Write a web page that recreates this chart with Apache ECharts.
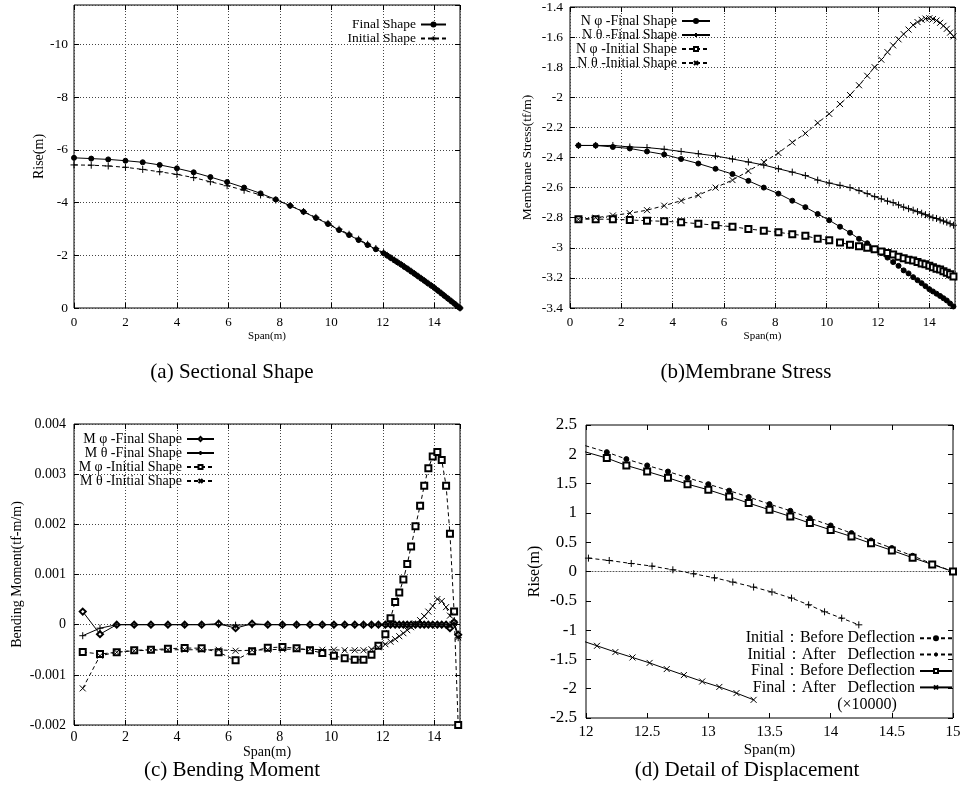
<!DOCTYPE html>
<html>
<head>
<meta charset="utf-8">
<script src="https://cdn.jsdelivr.net/npm/echarts@6/dist/echarts.min.js"></script>
<style>html,body{margin:0;padding:0;background:#fff}#main{width:967px;height:806px}</style>
</head>
<body>
<div id="main"></div>
<script>
// (a) Sectional Shape
var shapeX = [0, 0.67, 1.33, 2.0, 2.67, 3.33, 4.0, 4.65, 5.3, 5.95, 6.61, 7.25, 7.84, 8.4, 8.92, 9.4, 9.87, 10.3, 10.69, 11.06, 11.41, 11.73,
  12.03, 12.17, 12.31, 12.45, 12.58, 12.71, 12.84, 12.97, 13.1, 13.23, 13.36, 13.49, 13.62, 13.75, 13.88, 14.01, 14.14, 14.27, 14.4, 14.53, 14.66, 14.79, 14.9, 15.0];
var finalShape = [-5.70, -5.67, -5.64, -5.59, -5.53, -5.43, -5.30, -5.15, -4.97, -4.78, -4.57, -4.35, -4.12, -3.88, -3.65, -3.42, -3.19, -2.96, -2.77, -2.58, -2.39, -2.23,
  -2.08, -1.99, -1.90, -1.81, -1.73, -1.65, -1.56, -1.48, -1.39, -1.30, -1.21, -1.12, -1.03, -0.94, -0.85, -0.76, -0.66, -0.56, -0.46, -0.36, -0.26, -0.16, -0.07, 0];
var initialShape = [-5.43, -5.42, -5.39, -5.34, -5.26, -5.17, -5.07, -4.95, -4.79, -4.64, -4.47, -4.29, -4.10, -3.89, -3.66, -3.44, -3.21, -2.99, -2.80, -2.61, -2.42, -2.26,
  -2.10, -2.00, -1.91, -1.82, -1.74, -1.655, -1.57, -1.485, -1.395, -1.305, -1.215, -1.125, -1.035, -0.945, -0.855, -0.76, -0.665, -0.565, -0.465, -0.365, -0.26, -0.16, -0.07, 0];

// (b) Membrane Stress
var elementX = [0.33, 1.0, 1.67, 2.33, 3.0, 3.67, 4.33, 5.0, 5.67, 6.33, 6.95, 7.55, 8.12, 8.66, 9.17, 9.65, 10.1, 10.52, 10.91, 11.26, 11.58, 11.87,
  12.13, 12.37, 12.59, 12.8, 13.0, 13.19, 13.37, 13.54, 13.7, 13.85, 14.0, 14.14, 14.28, 14.42, 14.55, 14.68, 14.81, 14.94];
var nPhiFinal = [-2.32, -2.32, -2.33, -2.34, -2.36, -2.38, -2.41, -2.44, -2.475, -2.51, -2.555, -2.60, -2.64, -2.687, -2.73, -2.775, -2.817, -2.86, -2.90, -2.94, -2.97, -3.01,
  -3.035, -3.065, -3.095, -3.12, -3.15, -3.17, -3.195, -3.215, -3.235, -3.255, -3.275, -3.29, -3.305, -3.32, -3.335, -3.35, -3.37, -3.39];
var nThetaFinal = [-2.32, -2.32, -2.32, -2.33, -2.334, -2.345, -2.36, -2.375, -2.39, -2.41, -2.43, -2.45, -2.475, -2.497, -2.52, -2.55, -2.57, -2.585, -2.60, -2.62, -2.64, -2.66,
  -2.675, -2.69, -2.70, -2.715, -2.73, -2.74, -2.75, -2.76, -2.77, -2.78, -2.79, -2.80, -2.805, -2.815, -2.822, -2.83, -2.84, -2.85];
var nPhiInitial = [-2.81, -2.81, -2.81, -2.815, -2.82, -2.824, -2.83, -2.84, -2.85, -2.86, -2.875, -2.886, -2.897, -2.91, -2.92, -2.94, -2.95, -2.965, -2.98, -2.99, -3.0, -3.01,
  -3.025, -3.035, -3.045, -3.06, -3.07, -3.08, -3.085, -3.095, -3.105, -3.11, -3.12, -3.13, -3.14, -3.145, -3.155, -3.165, -3.175, -3.19];
var nThetaInitial = [-2.81, -2.80, -2.785, -2.77, -2.75, -2.72, -2.687, -2.65, -2.60, -2.55, -2.49, -2.43, -2.37, -2.30, -2.24, -2.17, -2.11, -2.045, -1.985, -1.92, -1.857, -1.80,
  -1.75, -1.70, -1.655, -1.615, -1.58, -1.55, -1.52, -1.50, -1.485, -1.477, -1.475, -1.48, -1.49, -1.505, -1.525, -1.545, -1.57, -1.595];

// (c) Bending Moment
var momentX = [0.34, 1.01, 1.66, 2.34, 2.99, 3.65, 4.3, 4.96, 5.62, 6.28, 6.92, 7.53, 8.1, 8.65, 9.17, 9.65, 10.1, 10.52, 10.91, 11.25, 11.56, 11.83,
  12.1, 12.3, 12.48, 12.64, 12.8, 12.95, 13.1, 13.27, 13.45, 13.61, 13.77, 13.94, 14.12, 14.29, 14.46, 14.61, 14.77, 14.93];
var mPhiFinal = [0.00026, -0.00019, 0, 0, 0, 0, 0, 0, 0.00002, -0.00007, 0.00002, 0, 0, 0, 0, 0, 0, 0, 0, 0, 0, 0,
  0, 0, 0, 0, 0, 0, 0, 0, 0, 0, 0, 0, 0, 0, 0, -0.00007, 0.00005, -0.0002];
var mThetaFinal = [-0.00022, -0.00007, 0, 0, 0, 0, 0, 0, 0, -0.00001, 0, 0, 0, 0, 0, 0, 0, 0, 0, 0, 0, 0,
  0, 0, 0, 0, 0, 0, 0, 0, 0, 0, 0, 0, 0, 0, 0, 0, 0.00002, -0.00026];
var mPhiInitial = [-0.000545, -0.000585, -0.00055, -0.00051, -0.0005, -0.00048, -0.000465, -0.00047, -0.00055, -0.00071, -0.00053, -0.00046, -0.000445, -0.00047, -0.00051, -0.000565, -0.00062, -0.00067, -0.0007, -0.0007, -0.0006, -0.00042,
  -0.00019, 0.00013, 0.00045, 0.00064, 0.0009, 0.00121, 0.00156, 0.00196, 0.00237, 0.00277, 0.00312, 0.00335, 0.00344, 0.00328, 0.00277, 0.00181, 0.00026, -0.002];
var mThetaInitial = [-0.00127, -0.00062, -0.00055, -0.00052, -0.00051, -0.0005, -0.0005, -0.0005, -0.0005, -0.00052, -0.00051, -0.0005, -0.00049, -0.00049, -0.00049, -0.0005, -0.0005, -0.00051, -0.00051, -0.00051, -0.00049, -0.00045,
  -0.00039, -0.00034, -0.00029, -0.00023, -0.00017, -0.00011, -0.00005, 0.00002, 0.00009, 0.00017, 0.00026, 0.00037, 0.00051, 0.00047, 0.00035, 0.00018, 0.00003, -0.00025];

// (d) Detail of Displacement
var beforeX = [11.83, 12.17, 12.33, 12.5, 12.67, 12.83, 13.0, 13.17, 13.33, 13.5, 13.67, 13.83, 14.0, 14.17, 14.33, 14.5, 14.67, 14.83, 15.0];
var initialBefore = [2.25, 2.037, 1.918, 1.81, 1.706, 1.60, 1.49, 1.38, 1.27, 1.15, 1.036, 0.91, 0.785, 0.655, 0.53, 0.40, 0.268, 0.13, 0];
var finalBefore = [2.14, 1.935, 1.81, 1.706, 1.60, 1.49, 1.394, 1.28, 1.167, 1.053, 0.94, 0.826, 0.71, 0.597, 0.48, 0.36, 0.234, 0.12, 0];
var initialAfterX = [12.02, 12.19, 12.37, 12.54, 12.71, 12.88, 13.05, 13.2, 13.37, 13.52, 13.68, 13.82, 13.95, 14.09, 14.23];
var initialAfter = [0.228, 0.188, 0.137, 0.092, 0.029, -0.039, -0.108, -0.18, -0.266, -0.35, -0.454, -0.568, -0.688, -0.796, -0.91];
var finalAfterX = [11.95, 12.09, 12.24, 12.38, 12.52, 12.66, 12.8, 12.95, 13.09, 13.23, 13.37];
var finalAfter = [-1.17, -1.268, -1.375, -1.467, -1.56, -1.665, -1.768, -1.877, -1.97, -2.075, -2.19];

var serif = 'Liberation Serif, Times New Roman, serif';
var PLUS = 'path://M5,0L5,10M0,5L10,5';
var CROSS = 'path://M0,0L10,10M10,0L0,10';

function pts(xs, ys) {
  return xs.map(function (x, i) { return [x, ys[i]]; });
}

function line(name, g, xs, ys, dashed, symbol, size) {
  return {
    name: name, type: 'line', xAxisIndex: g, yAxisIndex: g,
    data: pts(xs, ys),
    symbol: symbol, symbolSize: size, showAllSymbol: true,
    lineStyle: { color: '#000', width: 1, type: dashed ? [4, 3] : 'solid' },
    itemStyle: { color: '#000', borderColor: '#000', borderWidth: 1 },
    emphasis: { disabled: true }
  };
}

var grids = [
  { left: 74, top: 5, width: 386, height: 303 },
  { left: 570, top: 6, width: 385, height: 302 },
  { left: 74, top: 424, width: 386, height: 301 },
  { left: 586, top: 425, width: 367, height: 293 }
];
grids.forEach(function (g) { g.show = true; g.borderColor = '#000'; g.borderWidth = 1; });

var dotted = { show: true, lineStyle: { type: [1, 2], color: '#444', width: 1 } };

function axis(g, pos, o, mirror) {
  var a = {
    type: 'value', gridIndex: g, position: pos,
    min: o.min, max: o.max, interval: o.interval, splitNumber: o.splitNumber, inverse: o.inverse,
    axisLine: { show: false, onZero: false },
    axisTick: { show: true, inside: true, length: 5, lineStyle: { color: '#000' } },
    splitLine: mirror ? { show: false } : (o.grid ? dotted : { show: false }),
    axisLabel: mirror ? { show: false } : {
      color: '#000', fontFamily: serif, fontSize: o.fontSize, margin: o.margin,
      showMinLabel: o.showMin, showMaxLabel: o.showMax
    }
  };
  if (!mirror && o.name) {
    a.name = o.name; a.nameLocation = 'middle'; a.nameGap = o.nameGap;
    a.nameTextStyle = { color: '#000', fontFamily: serif, fontSize: o.nameSize };
  }
  return a;
}

var xOpts = [
  { min: 0, max: 15, interval: 2, showMax: false, grid: true, fontSize: 13, margin: 8, name: 'Span(m)', nameGap: 23, nameSize: 11 },
  { min: 0, max: 15, interval: 2, showMax: false, grid: true, fontSize: 13, margin: 8, name: 'Span(m)', nameGap: 23, nameSize: 11 },
  { min: 0, max: 15, interval: 2, showMax: false, grid: true, fontSize: 14, margin: 5, name: 'Span(m)', nameGap: 20, nameSize: 14 },
  { min: 12, max: 15, interval: 0.5, grid: false, fontSize: 15, margin: 7, name: 'Span(m)', nameGap: 25, nameSize: 15 }
];
var yOpts = [
  { min: -11.5, max: 0, splitNumber: 5, inverse: true, showMin: false, grid: true, fontSize: 13.5, margin: 6, name: 'Rise(m)', nameGap: 27, nameSize: 14 },
  { min: -3.4, max: -1.4, interval: 0.2, grid: true, fontSize: 13.5, margin: 7, name: 'Membrane Stress(tf/m)', nameGap: 36, nameSize: 13.5 },
  { min: -0.002, max: 0.004, interval: 0.001, grid: true, fontSize: 14, margin: 8, name: 'Bending Moment(tf-m/m)', nameGap: 50, nameSize: 14 },
  { min: -2.5, max: 2.5, interval: 0.5, grid: false, fontSize: 17, margin: 9, name: 'Rise(m)', nameGap: 43, nameSize: 16 }
];

var xAxes = [], yAxes = [];
for (var i = 0; i < 4; i++) {
  xAxes.push(axis(i, 'bottom', xOpts[i], false));
  yAxes.push(axis(i, 'left', yOpts[i], false));
}
for (var j = 0; j < 4; j++) {
  xAxes.push(axis(j, 'top', xOpts[j], true));
  yAxes.push(axis(j, 'right', yOpts[j], true));
}
// zero axis of (d): an extra x axis sitting on y = 0, drawn dotted
xAxes.push({
  type: 'value', gridIndex: 3, min: 12, max: 15, position: 'bottom',
  axisLine: { show: true, onZero: true, onZeroAxisIndex: 3, lineStyle: { color: '#555', type: [1, 2], width: 1 } },
  axisTick: { show: false }, axisLabel: { show: false }, splitLine: { show: false }
});

var series = [
  line('Final Shape', 0, shapeX, finalShape, false, 'circle', 5),
  line('Initial Shape', 0, shapeX, initialShape, true, PLUS, 7),

  line('N φ -Final Shape', 1, elementX, nPhiFinal, false, 'circle', 5),
  line('N θ -Final Shape', 1, elementX, nThetaFinal, false, PLUS, 7),
  line('N φ -Initial Shape', 1, elementX, nPhiInitial, true, 'emptyRect', 6),
  line('N θ -Initial Shape', 1, elementX, nThetaInitial, true, CROSS, 6),

  line('M φ -Final Shape', 2, momentX, mPhiFinal, false, 'emptyDiamond', 6),
  line('M θ -Final Shape', 2, momentX, mThetaFinal, false, PLUS, 7),
  line('M φ -Initial Shape', 2, momentX, mPhiInitial, true, 'emptyRect', 6),
  line('M θ -Initial Shape', 2, momentX, mThetaInitial, true, CROSS, 6),

  line('Initial：Before Deflection', 3, beforeX, initialBefore, true, 'circle', 5),
  line('Initial：After\u00a0\u00a0\u00a0Deflection', 3, initialAfterX, initialAfter, true, PLUS, 7),
  line('Final：Before Deflection', 3, beforeX, finalBefore, false, 'emptyRect', 6),
  line('Final：After\u00a0\u00a0\u00a0Deflection', 3, finalAfterX, finalAfter, false, CROSS, 6)
];

function legend(names, right, top, w, size, lh) {
  return {
    data: names, orient: 'vertical', align: 'right', right: right, top: top,
    itemWidth: w, itemHeight: 5, itemGap: 0, padding: 0, selectedMode: false,
    textStyle: { color: '#000', fontFamily: serif, fontSize: size, lineHeight: lh, height: lh }
  };
}

var option = {
  animation: false,
  backgroundColor: '#fff',
  grid: grids,
  xAxis: xAxes,
  yAxis: yAxes,
  legend: [
    legend(['Final Shape', 'Initial Shape'], 520, 17.5, 25, 13.5, 13),
    legend(['N φ -Final Shape', 'N θ -Final Shape', 'N φ -Initial Shape', 'N θ -Initial Shape'], 256, 14, 28, 14, 13.7),
    legend(['M φ -Final Shape', 'M θ -Final Shape', 'M φ -Initial Shape', 'M θ -Initial Shape'], 752, 432, 27, 14, 13.7),
    legend(['Initial：Before Deflection', 'Initial：After\u00a0\u00a0\u00a0Deflection', 'Final：Before Deflection', 'Final：After\u00a0\u00a0\u00a0Deflection'], 14, 630, 32, 16, 16.4)
  ],
  graphic: [
    { type: 'text', x: 867, y: 705, style: { text: '(×10000)', font: '16px ' + serif, fill: '#000', align: 'center', verticalAlign: 'middle' } },
    { type: 'text', x: 232, y: 372, style: { text: '(a) Sectional Shape', font: '21px ' + serif, fill: '#000', align: 'center', verticalAlign: 'middle' } },
    { type: 'text', x: 746, y: 372, style: { text: '(b)Membrane Stress', font: '21px ' + serif, fill: '#000', align: 'center', verticalAlign: 'middle' } },
    { type: 'text', x: 232, y: 770, style: { text: '(c) Bending Moment', font: '21px ' + serif, fill: '#000', align: 'center', verticalAlign: 'middle' } },
    { type: 'text', x: 747, y: 770, style: { text: '(d) Detail of Displacement', font: '21px ' + serif, fill: '#000', align: 'center', verticalAlign: 'middle' } }
  ],
  series: series
};

var myChart = echarts.init(document.getElementById('main'));
myChart.setOption(option);
</script>
</body>
</html>
